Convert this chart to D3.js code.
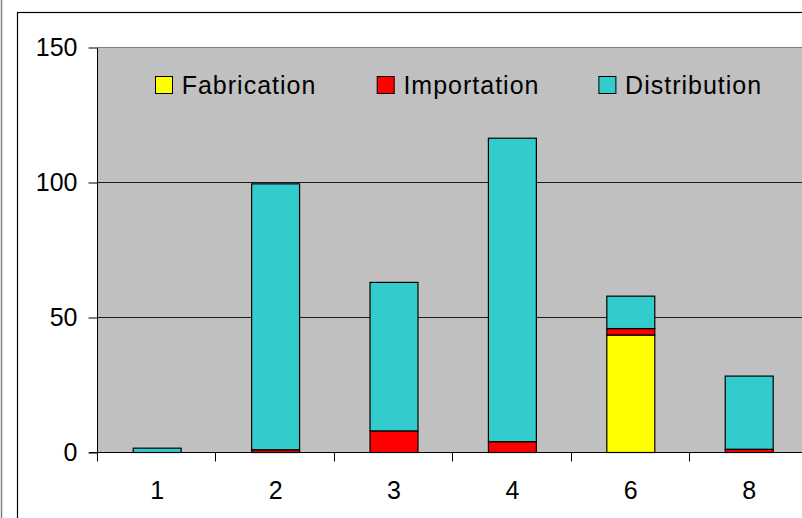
<!DOCTYPE html>
<html>
<head>
<meta charset="utf-8">
<script src="https://cdn.jsdelivr.net/npm/d3@7"></script>
<style>
  html, body { margin: 0; padding: 0; background: #fff; }
  svg { display: block; font-family: "Liberation Sans", Arial, sans-serif; }
</style>
</head>
<body>
<svg id="chart" width="802" height="518"></svg>
<script>
// Categories along the x axis
const categories = ["1", "2", "3", "4", "6", "8"];
// Stacked series values, bottom to top
const fabrication  = [0,   0,    0,    0,     43.5, 0];
const importation  = [0,   1,    8,    4,     2.4,  1.2];
const distribution = [1.6, 98.5, 55,   112.4, 12,   27.1];
// Series names and y tick values
const seriesNames = ["Fabrication", "Importation", "Distribution"];
const yTicks = [0, 50, 100, 150];

const colors = { Fabrication: "#FFFF00", Importation: "#FF0000", Distribution: "#33CCCC" };

const svg = d3.select("#chart");
const W = 802, H = 518;

// Page edge line and chart frame
svg.append("rect").attr("width", W).attr("height", H).attr("fill", "#fff");
svg.append("line").attr("x1", 1.5).attr("x2", 1.5).attr("y1", 0).attr("y2", H)
  .attr("stroke", "#808080").attr("stroke-width", 1.5);
svg.append("rect").attr("x", 17.5).attr("y", 12.5).attr("width", 900).attr("height", 600)
  .attr("fill", "#fff").attr("stroke", "#000").attr("stroke-width", 1.2);

// Plot area
const plotLeft = 98, plotTop = 47.5, plotBottom = 452.5, step = 118.4;
const plotRight = plotLeft + step * categories.length;

const x = d3.scaleBand().domain(categories).range([plotLeft, plotRight]).padding(0);
const y = d3.scaleLinear().domain([0, 150]).range([plotBottom, plotTop]);

svg.append("rect").attr("x", plotLeft).attr("y", plotTop)
  .attr("width", plotRight - plotLeft).attr("height", plotBottom - plotTop)
  .attr("fill", "#C0C0C0");
svg.append("line").attr("x1", plotLeft).attr("x2", plotRight).attr("y1", plotTop).attr("y2", plotTop)
  .attr("stroke", "#808080").attr("stroke-width", 1);

// Horizontal gridlines
svg.append("g").selectAll("line")
  .data(yTicks.filter(t => t > 0 && t < 150))
  .join("line")
  .attr("x1", plotLeft).attr("x2", plotRight)
  .attr("y1", d => y(d)).attr("y2", d => y(d))
  .attr("stroke", "#1a1a1a").attr("stroke-width", 1);

// Stacked bars
const rows = categories.map((c, i) => ({
  cat: c,
  Fabrication: fabrication[i],
  Importation: importation[i],
  Distribution: distribution[i]
}));
const stacked = d3.stack().keys(seriesNames)(rows);
const barW = x.bandwidth() * 0.405;

svg.append("g").selectAll("g")
  .data(stacked)
  .join("g")
  .attr("fill", d => colors[d.key])
  .selectAll("rect")
  .data(d => d.filter(s => s[1] - s[0] > 0))
  .join("rect")
  .attr("x", d => x(d.data.cat) + x.bandwidth() / 2 - barW / 2)
  .attr("y", d => y(d[1]))
  .attr("width", barW)
  .attr("height", d => y(d[0]) - y(d[1]))
  .attr("stroke", "#000")
  .attr("stroke-width", 1.2);

// Y axis
const yAxis = d3.axisLeft(y).tickValues(yTicks).tickSize(9).tickPadding(11);
const yg = svg.append("g").attr("transform", `translate(${plotLeft - 0.5},0)`).call(yAxis);
yg.select(".domain").attr("stroke", "#000").attr("d", `M0,${plotTop}V${plotBottom}`);
yg.selectAll(".tick line").attr("stroke", "#000");
yg.selectAll(".tick text")
  .attr("font-size", 25).attr("fill", "#000")
  .attr("font-family", "Liberation Sans, Arial, sans-serif");

// X axis: ticks sit on the category boundaries
const xg = svg.append("g").attr("transform", `translate(0,${plotBottom})`);
xg.append("line").attr("x1", plotLeft - 9).attr("x2", plotRight).attr("y1", 0).attr("y2", 0)
  .attr("stroke", "#000");
xg.selectAll("line.b")
  .data(categories.map(c => x(c)).concat([plotRight]))
  .join("line").attr("class", "b")
  .attr("x1", d => Math.round(d) - 0.5).attr("x2", d => Math.round(d) - 0.5)
  .attr("y1", 0).attr("y2", 9)
  .attr("stroke", "#000");
xg.selectAll("text")
  .data(categories)
  .join("text")
  .attr("x", d => x(d) + x.bandwidth() / 2)
  .attr("y", 46.5)
  .attr("text-anchor", "middle")
  .attr("font-size", 25)
  .attr("fill", "#000")
  .text(d => d);

// Legend
const legend = svg.append("g").attr("transform", "translate(155.5,76.5)");
const item = legend.selectAll("g")
  .data(seriesNames)
  .join("g")
  .attr("transform", (d, i) => `translate(${i * 221.7},0)`);
item.append("rect")
  .attr("width", 17).attr("height", 17)
  .attr("fill", d => colors[d])
  .attr("stroke", "#000").attr("stroke-width", 1);
item.append("text")
  .attr("x", 26.2).attr("y", 17.8)
  .attr("font-size", 25)
  .attr("letter-spacing", "1px")
  .attr("fill", "#000")
  .text(d => d);
</script>
</body>
</html>
